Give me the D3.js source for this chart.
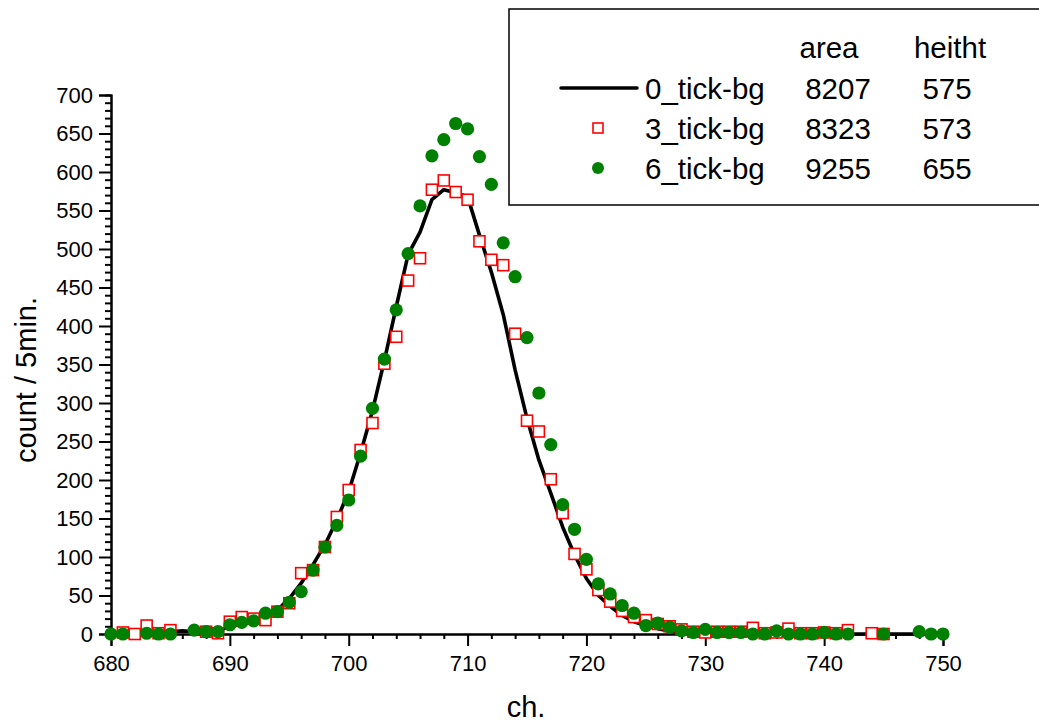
<!DOCTYPE html>
<html>
<head>
<meta charset="utf-8">
<script src="https://cdn.jsdelivr.net/npm/d3@7"></script>
<style>
  html, body { margin: 0; padding: 0; background: #fff; }
  svg { display: block; font-family: "Liberation Sans", Arial, sans-serif; }
</style>
</head>
<body>
<svg id="chart" width="1039" height="725"></svg>
<script>
// 0_tick-bg spectrum (drawn as a line), channels 680..750
const bg0Channels = d3.range(680, 751);
const bg0Counts = [
  0, 0, 0, 0, 1, 3, 4, 3, 2, 5,
  9, 14, 18, 23, 31, 46, 66, 90, 116, 148,
  185, 235, 290, 355, 425, 493, 522, 564, 577, 573,
  568, 518, 470, 415, 343, 280, 226, 183, 139, 103,
  72, 50, 36, 24, 16, 11, 7, 4, 2, 1,
  0, 0, 0, 0, 0, 0, 0, 0, 0, 0,
  0, 0, 0, 0, 0, 0, 0, 0, 0, 0,
  0
];

// 3_tick-bg spectrum (open squares)
const bg3Channels = [
  681, 682, 683, 684, 685, 688, 689, 690, 691, 692,
  693, 694, 695, 696, 697, 698, 699, 700, 701, 702,
  703, 704, 705, 706, 707, 708, 709, 710, 711, 712,
  713, 714, 715, 716, 717, 718, 719, 720, 721, 722,
  723, 724, 725, 726, 727, 728, 729, 730, 731, 732,
  733, 734, 735, 736, 737, 738, 739, 740, 741, 742,
  744, 745
];
const bg3Counts = [
  2, 0, 11, 1, 5, 3, 1, 16, 22, 20,
  18, 29, 40, 79, 83, 113, 152, 187, 239, 274,
  351, 386, 459, 488, 577, 589, 574, 564, 510, 486,
  479, 390, 277, 263, 201, 157, 104, 84, 57, 42,
  30, 22, 18, 13, 10, 6, 3, 2, 3, 3,
  3, 8, 1, 2, 7, 1, 1, 2, 1, 5,
  1, 0
];

// 6_tick-bg spectrum (filled circles)
const bg6Channels = [
  680, 681, 683, 684, 685, 687, 688, 689, 690, 691,
  692, 693, 694, 695, 696, 697, 698, 699, 700, 701,
  702, 703, 704, 705, 706, 707, 708, 709, 710, 711,
  712, 713, 714, 715, 716, 717, 718, 719, 720, 721,
  722, 723, 724, 725, 726, 727, 728, 729, 730, 731,
  732, 733, 734, 735, 736, 737, 738, 739, 740, 741,
  742, 745, 748, 749, 750
];
const bg6Counts = [
  0, 0, 1, 0, 0, 5, 3, 3, 12, 15,
  17, 27, 29, 41, 55, 83, 113, 141, 174, 231,
  293, 357, 421, 494, 556, 621, 642, 663, 656, 620,
  584, 508, 464, 385, 313, 246, 168, 136, 97, 65,
  52, 37, 27, 11, 14, 9, 4, 2, 6, 2,
  2, 2, 0, 0, 4, 0, 0, 0, 2, 0,
  0, 0, 3, 0, 0
];

// Legend table
const legendHeaders = ["area", "heitht"];
const legendNames = ["0_tick-bg", "3_tick-bg", "6_tick-bg"];
const legendAreas = ["8207", "8323", "9255"];
const legendHeights = ["575", "573", "655"];

const xTicks = d3.range(680, 751, 10);
const yTicks = d3.range(0, 701, 50);

const svg = d3.select("#chart");

const x = d3.scaleLinear().domain([680, 750]).range([111, 943]);
const y = d3.scaleLinear().domain([0, 700]).range([634, 95]);

const axisColor = "#000";

// ---- axes ----
const xAxisG = svg.append("g").attr("transform", `translate(0,${y(0)})`);
// minor x ticks every 2 channels
xAxisG.call(d3.axisBottom(x).tickValues(d3.range(680, 751, 2).filter(v => v % 10 !== 0))
  .tickSize(5).tickFormat(""));
xAxisG.append("g").call(d3.axisBottom(x).tickValues(xTicks).tickSize(12).tickPadding(9)
  .tickFormat(d3.format("d")));
xAxisG.selectAll(".domain").attr("stroke-width", 2).attr("stroke", axisColor);
xAxisG.selectAll("line").attr("stroke-width", 2).attr("stroke", axisColor);
xAxisG.selectAll("text").attr("font-size", 22).attr("fill", "#000")
  .attr("font-family", "Liberation Sans, Arial, sans-serif");

const yAxisG = svg.append("g").attr("transform", `translate(${x(680)},0)`);
// minor y ticks every 10 counts
yAxisG.call(d3.axisLeft(y).tickValues(d3.range(0, 701, 10).filter(v => v % 50 !== 0))
  .tickSize(6).tickFormat(""));
yAxisG.append("g").call(d3.axisLeft(y).tickValues(yTicks).tickSize(12).tickPadding(6)
  .tickFormat(d3.format("d")));
yAxisG.selectAll(".domain").attr("stroke-width", 2).attr("stroke", axisColor);
yAxisG.selectAll("line").attr("stroke-width", 2).attr("stroke", axisColor);
yAxisG.selectAll("text").attr("font-size", 22).attr("fill", "#000")
  .attr("font-family", "Liberation Sans, Arial, sans-serif");

// axis titles
svg.append("text")
  .attr("x", 526).attr("y", 717)
  .attr("text-anchor", "middle")
  .attr("font-size", 29)
  .text("ch.");

svg.append("text")
  .attr("transform", "translate(36,380) rotate(-90)")
  .attr("text-anchor", "middle")
  .attr("font-size", 29)
  .text("count / 5min.");

// ---- data ----
const line = d3.line()
  .x((d, i) => x(bg0Channels[i]))
  .y(d => y(d));

svg.append("path")
  .datum(bg0Counts)
  .attr("d", line)
  .attr("fill", "none")
  .attr("stroke", "#000")
  .attr("stroke-width", 3.6)
  .attr("stroke-linejoin", "round");

const sq = 11;
svg.append("g").selectAll("rect")
  .data(bg3Counts)
  .join("rect")
  .attr("x", (d, i) => x(bg3Channels[i]) - sq / 2)
  .attr("y", d => y(d) - sq / 2)
  .attr("width", sq).attr("height", sq)
  .attr("fill", "#fff")
  .attr("stroke", "#ff0000")
  .attr("stroke-width", 1.6);

svg.append("g").selectAll("circle")
  .data(bg6Counts)
  .join("circle")
  .attr("cx", (d, i) => x(bg6Channels[i]))
  .attr("cy", d => y(d))
  .attr("r", 6.6)
  .attr("fill", "#008000");

// ---- legend ----
const lg = svg.append("g");
lg.append("rect")
  .attr("x", 509).attr("y", 9)
  .attr("width", 560).attr("height", 196)
  .attr("fill", "#fff")
  .attr("stroke", "#000")
  .attr("stroke-width", 1.5);

const fs = 29.5;
const colArea = 838, colHeight = 947, colName = 645;
const headerY = 58, rowY = [99, 139, 179];

lg.append("text").attr("x", colArea - 9).attr("y", headerY)
  .attr("text-anchor", "middle").attr("font-size", fs).text(legendHeaders[0]);
lg.append("text").attr("x", colHeight + 3).attr("y", headerY)
  .attr("text-anchor", "middle").attr("font-size", fs).text(legendHeaders[1]);

legendNames.forEach((name, i) => {
  lg.append("text").attr("x", colName).attr("y", rowY[i])
    .attr("font-size", fs).text(name);
  lg.append("text").attr("x", colArea).attr("y", rowY[i])
    .attr("text-anchor", "middle").attr("font-size", fs).text(legendAreas[i]);
  lg.append("text").attr("x", colHeight).attr("y", rowY[i])
    .attr("text-anchor", "middle").attr("font-size", fs).text(legendHeights[i]);
});

// legend symbols
lg.append("line")
  .attr("x1", 561).attr("x2", 637)
  .attr("y1", 88).attr("y2", 88)
  .attr("stroke", "#000").attr("stroke-width", 3.5)
  .attr("stroke-linecap", "round");
lg.append("rect")
  .attr("x", 598 - 5).attr("y", 128 - 5)
  .attr("width", 10).attr("height", 10)
  .attr("fill", "#fff").attr("stroke", "#ff0000").attr("stroke-width", 1.6);
lg.append("circle")
  .attr("cx", 598).attr("cy", 168).attr("r", 6)
  .attr("fill", "#008000");
</script>
</body>
</html>
